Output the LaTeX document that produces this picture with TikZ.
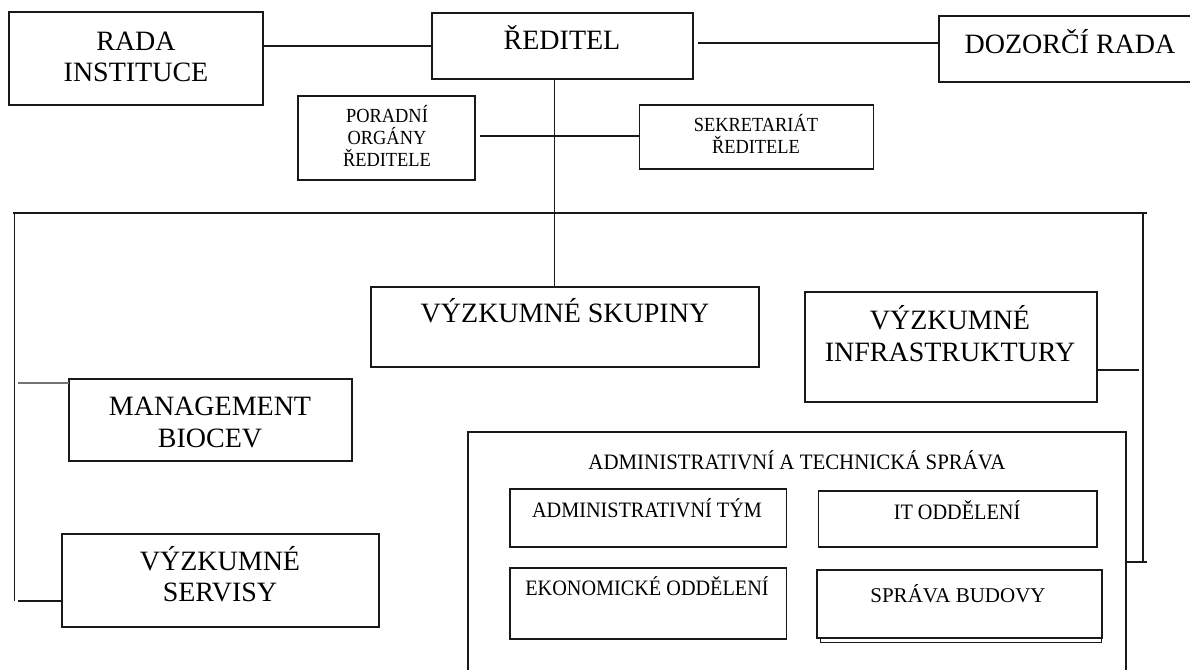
\documentclass[tikz,border=0pt]{standalone}
\usepackage{fontspec}
\setmainfont{Liberation Serif}
\newfontfamily\condf[FakeStretch=0.92]{Liberation Serif}
\newfontfamily\condt[FakeStretch=0.95]{Liberation Serif}
\begin{document}
\begin{tikzpicture}[x=1pt,y=-1pt,
  box/.style={draw=black!90, line width=1.3pt, inner sep=0pt, outer sep=0pt, fill=white},
  big/.style={font=\fontsize{28}{31.5}\selectfont, align=center, inner sep=0pt},
  bigb/.style={font=\fontsize{28}{31.5}\selectfont, inner sep=0pt, anchor=base},
  small/.style={font=\condf\fontsize{20}{22}\selectfont, align=center, inner sep=0pt},
  adm/.style={font=\condf\fontsize{22}{24}\selectfont, inner sep=0pt, anchor=base},
  conn/.style={draw=black!90, line width=1.3pt},
  lconn/.style={draw=black!55, line width=1.3pt}]
\useasboundingbox (0,0) rectangle (1190,669);

% boxes
\node[box, minimum width=254pt, minimum height=93pt] (rada) at (136,58.5) {};
\node[box, minimum width=261pt, minimum height=66pt] (reditel) at (562.5,46) {};
\node[box, minimum width=261pt, minimum height=66pt] (dozorci) at (1069.5,49) {};
\node[box, minimum width=177pt, minimum height=84pt] (poradni) at (386.5,138) {};
\node[box, minimum width=234pt, minimum height=64pt] (sekret) at (756.5,137) {};
\node[box, minimum width=388pt, minimum height=80pt] (skupiny) at (565,327) {};
\node[box, minimum width=292pt, minimum height=110pt] (infra) at (951,347) {};
\node[box, minimum width=283pt, minimum height=82pt] (mgmt) at (210.5,420) {};
\node[box, minimum width=317pt, minimum height=93pt] (servisy) at (220.5,580.5) {};
\node[box, minimum width=658pt, minimum height=258pt] (admin) at (797,561) {};
\node[box, minimum width=276.5pt, minimum height=58pt] (admtym) at (648.25,518) {};
\node[box, minimum width=278.5pt, minimum height=56pt] (it) at (957.75,519) {};
\node[box, minimum width=276.5pt, minimum height=71pt] (ekon) at (648.25,603.5) {};
\node[box, line width=1pt, minimum width=281pt, minimum height=68pt] (spravash) at (960.5,608) {};
\node[box, line width=1.5pt, minimum width=285pt, minimum height=68pt] (sprava) at (959.5,604) {};

% texts
\node[big] (radaT) at (136,57) {RADA\\INSTITUCE};
\node[bigb] (reditelT) at (562,49) {ŘEDITEL};
\node[bigb] (dozorciT) at (1070,53) {DOZORČÍ RADA};
\node[small] (poradniT) at (387,136) {PORADNÍ\\ORGÁNY\\ŘEDITELE};
\node[small] (sekretT) at (756,134) {SEKRETARIÁT\\ŘEDITELE};
\node[bigb] (skupinyT) at (565,322) {VÝZKUMNÉ SKUPINY};
\node[big] (infraT) at (950,333.5) {VÝZKUMNÉ\\INFRASTRUKTURY};
\node[big] (mgmtT) at (210,422.5) {MANAGEMENT\\BIOCEV};
\node[big] (servisyT) at (220,574) {VÝZKUMNÉ\\SERVISY};
\node[adm, font=\condt\fontsize{22}{24}\selectfont] (adminT) at (797,469) {ADMINISTRATIVNÍ A TECHNICKÁ SPRÁVA};
\node[adm] (admtymT) at (647,517) {ADMINISTRATIVNÍ TÝM};
\node[adm] (itT) at (957,519) {IT ODDĚLENÍ};
\node[adm] (ekonT) at (647,595) {EKONOMICKÉ ODDĚLENÍ};
\node[anchor=base, inner sep=0pt, font=\fontsize{21}{23}\selectfont] (spravaT) at (958,602) {SPRÁVA BUDOVY};

% connector coordinates
\coordinate (busL) at (12.5,213);
\coordinate (busR) at (1147,213);
\coordinate (tk) at (554.5,213);
\coordinate (lv) at (14.5,213);
\coordinate (lvB) at (14.5,601);
\coordinate (rv) at (1143,213);
\coordinate (rvB) at (1143,562);
\coordinate (rdL) at (698,43);
\coordinate (ps) at (480,136);
\coordinate (mg) at (18,383);
\coordinate (sv) at (18,601);
\coordinate (inR) at (1139,370);
\coordinate (adR) at (1147,562);

% connectors
\draw[conn] (rada.east |- reditel.west) -- (reditel.west);
\draw[conn] (rdL) -- (dozorci.west |- rdL);
\draw[conn] (reditel.south -| tk) -- (skupiny.north -| tk);
\draw[conn] (ps) -- (sekret.west |- ps);
\draw[conn] (busL) -- (busR);
\draw[conn] (lv) -- (lvB);
\draw[conn] (rv) -- (rvB);
\draw[lconn] (mg) -- (mgmt.west |- mg);
\draw[conn] (sv) -- (servisy.west |- sv);
\draw[conn] (infra.east |- inR) -- (inR);
\draw[conn] (admin.east |- adR) -- (adR);
\end{tikzpicture}
\end{document}
